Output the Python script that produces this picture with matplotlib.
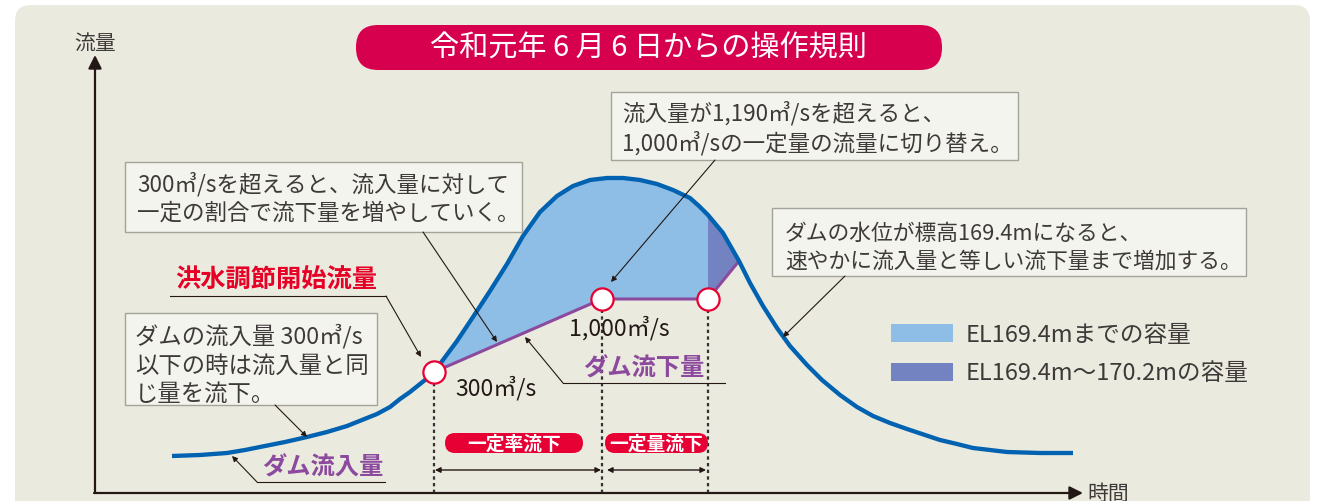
import numpy as np
import matplotlib
matplotlib.use("Agg")
import matplotlib.pyplot as plt
from matplotlib.patches import FancyBboxPatch, Rectangle

plt.rcParams['font.family'] = ['Noto Sans CJK JP', 'DejaVu Sans']

# inflow hydrograph (time, flow) in chart units
inflow_t = [77, 105, 132, 150, 165, 190, 212, 232, 252, 267, 282, 295, 305, 315,
            325, 335, 339, 345, 362, 378, 395, 412, 428, 445, 462, 478, 495, 512,
            528, 545, 562, 578, 595, 604, 613, 628, 644, 655, 668, 682, 695, 712,
            727, 745, 762, 778, 795, 812, 830, 845, 862, 878, 895, 912, 945, 978]
inflow_q = [37, 38, 40, 43, 46, 51, 56, 61, 67, 73, 79, 86, 94, 101,
            109, 117, 121, 129, 152, 176, 202, 229, 257, 281, 297, 307, 313, 315,
            315, 313, 309, 303, 295, 287, 278, 260, 232, 210, 187, 165, 147, 128,
            113, 98, 86, 77, 70, 64, 58, 53, 49, 45, 43, 41, 40, 40]

# dam outflow: constant-rate rise, constant 1,000 m3/s, then back to inflow
outflow_t = [339, 507, 613, 644]
outflow_q = [121, 194, 194, 232]

flow_labels = ['300㎥/s', '1,000㎥/s']
phase_labels = ['一定率流下', '一定量流下']
legend_labels = ['EL169.4mまでの容量', 'EL169.4m〜170.2mの容量']

BLUE = '#0062B0'
LIGHT = '#8EBDE6'
DARK = '#7383C1'
PURPLE = '#8C4A9E'
RED = '#E60033'
PINK = '#D7004F'
BG = '#EBEADF'
INK = '#3E3A39'


def px(x, y):
    # picture position -> chart units (origin at the axes corner)
    return (x - 95, 494 - y)


fig = plt.figure(figsize=(13.26, 5.02), dpi=100, facecolor='white')
ax = fig.add_axes([0, 0, 1, 1])
ax.set_xlim(-95, 1231)
ax.set_ylim(-8, 494)
ax.axis('off')

# panel
x0, y0 = px(15, 520)
x1, y1 = px(1310, 6)
ax.add_patch(FancyBboxPatch((x0, y0), x1 - x0, y1 - y0,
                            boxstyle='round,pad=0,rounding_size=16',
                            fc=BG, ec='none', zorder=0))

# title pill
x0, y0 = px(356, 71)
x1, y1 = px(942, 26)
ax.add_patch(FancyBboxPatch((x0, y0), x1 - x0, y1 - y0,
                            boxstyle='round,pad=0,rounding_size=22',
                            fc=PINK, ec='none', zorder=2))
ax.text(*px(648, 49), '令和元年 6 月 6 日からの操作規則', color='white',
        fontsize=21, ha='center', va='center', zorder=3)

# axes arrows
ax.annotate('', xy=px(95, 56), xytext=px(95, 494),
            arrowprops=dict(arrowstyle='-|>', lw=1.6, color='#231815',
                            mutation_scale=20, shrinkA=0, shrinkB=0))
ax.annotate('', xy=px(1083, 494), xytext=px(94, 494),
            arrowprops=dict(arrowstyle='-|>', lw=1.6, color='#231815',
                            mutation_scale=20, shrinkA=0, shrinkB=0))
ax.text(*px(95, 44), '流量', fontsize=15, color=INK, ha='center', va='center')
ax.text(*px(1087, 494), '時間', fontsize=15, color=INK, ha='left', va='center')

# storage areas
i0 = inflow_t.index(outflow_t[0])
i1 = inflow_t.index(outflow_t[2])
i2 = inflow_t.index(outflow_t[3])
ax.fill(inflow_t[i0:i1 + 1] + outflow_t[2::-1],
        inflow_q[i0:i1 + 1] + outflow_q[2::-1], color=LIGHT, lw=0, zorder=3)
ax.fill(inflow_t[i1:i2 + 1] + outflow_t[3:1:-1],
        inflow_q[i1:i2 + 1] + outflow_q[3:1:-1], color=DARK, lw=0, zorder=3)

# dashed guides
for t, q in zip(outflow_t[:3], outflow_q[:3]):
    ax.plot([t, t], [0, q], color='#333333', lw=1.6,
            ls=(0, (1.5, 1.5)), zorder=2)

ax.plot(outflow_t, outflow_q, color=PURPLE, lw=2.2, zorder=4)
ax.plot(inflow_t, inflow_q, color=BLUE, lw=3.1, solid_capstyle='butt',
        solid_joinstyle='round', zorder=5)
ax.plot(outflow_t[:3], outflow_q[:3], 'o', ms=16, mfc='white', mec=RED,
        mew=1.6, zorder=6)

# phase pills and spans
for (a, b), lab in zip([(445, 583), (605, 708)], phase_labels):
    xa, ya = px(a, 454)
    xb, yb = px(b, 434)
    ax.add_patch(FancyBboxPatch((xa, ya), xb - xa, yb - ya,
                                boxstyle='round,pad=0,rounding_size=10',
                                fc='#E60033', ec='none', zorder=3))
    ax.text((xa + xb) / 2, (ya + yb) / 2, lab, color='white', fontsize=13.5,
            fontweight='bold', ha='center', va='center', zorder=4)
for a, b in [(435, 601), (607, 706)]:
    ax.annotate('', xy=px(b, 471), xytext=px(a, 471),
                arrowprops=dict(arrowstyle='<|-|>', lw=1.0, color='#231815',
                                mutation_scale=8, shrinkA=0, shrinkB=0))

# flow values
ax.text(*px(455, 388), flow_labels[0], fontsize=16.7, color='#231815',
        ha='left', va='center', zorder=7)
ax.text(*px(569, 328), flow_labels[1], fontsize=16.7, color='#231815',
        ha='left', va='center', zorder=7)

# callout boxes
boxes = [
    ((125, 163, 522, 233), [(137, 184), (137, 213)],
     ['300㎥/sを超えると、流入量に対して', '一定の割合で流下量を増やしていく。'], 16.2),
    ((611, 93, 1018, 161), [(622, 113), (622, 143)],
     ['流入量が1,190㎥/sを超えると、', '1,000㎥/sの一定量の流量に切り替え。'], 16.2),
    ((772, 209, 1246, 277), [(785, 234), (785, 262)],
     ['ダムの水位が標高169.4mになると、', '速やかに流入量と等しい流下量まで増加する。'], 15.7),
    ((125, 314, 377, 406), [(135, 336), (135, 366), (135, 394)],
     ['ダムの流入量 300㎥/s', '以下の時は流入量と同', 'じ量を流下。'], 16.8),
]
for (a, top, b, bot), pos, lines, fs in boxes:
    xa, ya = px(a, bot)
    xb, yb = px(b, top)
    ax.add_patch(Rectangle((xa, ya), xb - xa, yb - ya, fc='#F4F4EE',
                           ec='#A3A39C', lw=1.0, zorder=6))
    for (lx, ly), line in zip(pos, lines):
        ax.text(*px(lx, ly), line, fontsize=fs, color=INK, ha='left',
                va='center', zorder=7)

# leaders
arrow = dict(arrowstyle='-|>', lw=0.8, color='#231815', mutation_scale=8,
             shrinkA=0, shrinkB=0)
for start, end in [((423, 233), (497, 343)), ((715, 161), (611, 283)),
                   ((845, 277), (783, 338)), ((275, 406), (307, 438)),
                   ((386, 297), (421, 358)), ((257, 483), (232, 457)),
                   ((563, 384), (525, 338))]:
    ax.annotate('', xy=px(*end), xytext=px(*start), arrowprops=arrow, zorder=7)
for a, b, y in [(170, 386, 297), (257, 385, 483), (563, 725, 384)]:
    ax.plot([px(a, y)[0], px(b, y)[0]], [px(a, y)[1]] * 2, color='#231815',
            lw=0.8, zorder=7)

ax.text(*px(175, 280), '洪水調節開始流量', fontsize=18.2, fontweight='bold',
        color='#E60026', ha='left', va='center', zorder=7)
ax.text(*px(262, 468), 'ダム流入量', fontsize=17.5, fontweight='bold',
        color=PURPLE, ha='left', va='center', zorder=7)
ax.text(*px(583, 369), 'ダム流下量', fontsize=17.5, fontweight='bold',
        color=PURPLE, ha='left', va='center', zorder=7)

# legend
for (top, bot), col, lab, ty in zip([(325, 343), (364, 382)], [LIGHT, DARK],
                                    legend_labels, [335, 373]):
    xa, ya = px(891, bot)
    xb, yb = px(953, top)
    ax.add_patch(Rectangle((xa, ya), xb - xa, yb - ya, fc=col, ec='none'))
    ax.text(*px(966, ty), lab, fontsize=17, color=INK, ha='left', va='center')

fig.savefig('out.png', dpi=100, facecolor='white')
